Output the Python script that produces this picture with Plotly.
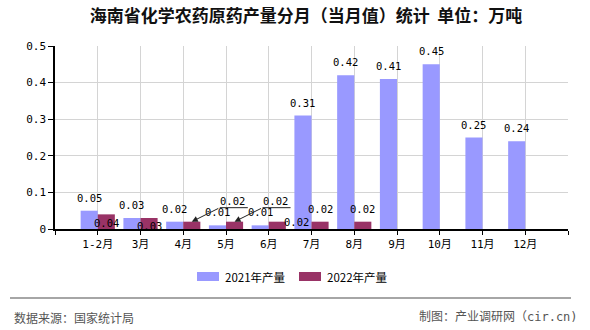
import plotly.graph_objects as go

# ---------------- data ----------------
categories = ["1-2月", "3月", "4月", "5月", "6月", "7月", "8月", "9月", "10月", "11月", "12月"]
series_names = ["2021年产量", "2022年产量"]
values_2021 = [0.05, 0.03, 0.02, 0.01, 0.01, 0.31, 0.42, 0.41, 0.45, 0.25, 0.24]
values_2022 = [0.04, 0.03, 0.02, 0.02, 0.02, 0.02, 0.02, None, None, None, None]
y_ticks = [0, 0.1, 0.2, 0.3, 0.4, 0.5]

title_text = "<b>海南省化学农药原药产量分月（当月值）统计  单位：万吨</b>"
source_text = "数据来源：国家统计局"
credit_text = "制图：产业调研网（cir.cn)"

# ---------------- style ----------------
COL_2021 = "#9999FF"
COL_2022 = "#993366"
GRID = "#D4D4D4"
CJK = "Noto Sans CJK SC"
MONO = "DejaVu Sans Mono, Noto Sans CJK SC"

W, H = 590, 330
L, R, T, B = 55, 568, 46, 229  # plot area in pixels


def px(xp):
    return (xp - L) / (R - L)


def py(yp):
    return (B - yp) / (B - T)


xpos = list(range(1, len(categories) + 1))
fig = go.Figure()
fig.add_trace(go.Bar(x=xpos, y=values_2021, name=series_names[0],
                     marker=dict(color=COL_2021, line=dict(width=0))))
fig.add_trace(go.Bar(x=xpos, y=values_2022, name=series_names[1],
                     marker=dict(color=COL_2022, line=dict(width=0))))

annotations = []
shapes = []
lab_font = dict(family=MONO, size=10.5, color="black")

# data labels (positions as in the reference's label layout)
for i, v in enumerate(values_2021):
    annotations.append(dict(x=xpos[i] - 0.2, y=v, xref="x", yref="y", text=f"{v:.2f}",
                            showarrow=False, yshift=13, font=lab_font))

special = {0: dict(xshift=0, yshift=-9), 1: dict(xshift=0, yshift=-8),
           4: dict(xshift=19, yshift=0)}
arrowed = {2, 3}
for i, v in enumerate(values_2022):
    if v is None:
        continue
    x = xpos[i] + 0.2
    if i in arrowed:
        # arrow from leader line to bar top
        annotations.append(dict(x=x, y=v, xref="x", yref="y", text="", showarrow=True,
                                ax=28, ay=-14, arrowhead=2, arrowsize=1.2, arrowwidth=1,
                                arrowcolor="#222", standoff=0))
        shapes.append(dict(type="line", xref="x", yref="y", xsizemode="pixel", ysizemode="pixel",
                           xanchor=x, yanchor=v, x0=28, x1=56, y0=14, y1=14,
                           line=dict(color="#222", width=1)))
        annotations.append(dict(x=x, y=v, xref="x", yref="y", text=f"{v:.2f}", showarrow=False,
                                xshift=41, yshift=21, font=lab_font))
    else:
        s = special.get(i, dict(xshift=0, yshift=13))
        annotations.append(dict(x=x, y=v, xref="x", yref="y", text=f"{v:.2f}", showarrow=False,
                                xshift=s["xshift"], yshift=s["yshift"], font=lab_font))

# manual legend
leg = [(197, 223, COL_2021, series_names[0]), (299, 325, COL_2022, series_names[1])]
for bx, tx, col, name in leg:
    shapes.append(dict(type="rect", xref="paper", yref="paper", x0=px(bx), x1=px(bx + 22),
                       y0=py(272), y1=py(281), fillcolor=col, line=dict(width=0)))
    annotations.append(dict(xref="paper", yref="paper", x=px(tx), y=py(276.5), text=name,
                            showarrow=False, xanchor="left", yanchor="middle",
                            font=dict(family=CJK, size=11.5, color="black")))

# separator line and footer
shapes.append(dict(type="line", xref="paper", yref="paper", x0=px(10), x1=px(571),
                   y0=py(298), y1=py(298), line=dict(color="#888888", width=1.5)))
annotations.append(dict(xref="paper", yref="paper", x=px(12), y=py(317), text=source_text,
                        showarrow=False, xanchor="left", yanchor="middle",
                        font=dict(family=CJK, size=12, color="#555555")))
annotations.append(dict(xref="paper", yref="paper", x=px(580), y=py(317), text=credit_text,
                        showarrow=False, xanchor="right", yanchor="middle",
                        font=dict(family=MONO, size=12, color="#555555")))

tickvals = [0] + xpos + [len(categories) + 1]
ticktext = [""] + categories + [""]

fig.update_layout(
    width=W, height=H,
    margin=dict(l=L, r=W - R, t=T, b=H - B, pad=0),
    paper_bgcolor="white", plot_bgcolor="white",
    barmode="group", bargap=0.2, bargroupgap=0,
    showlegend=False,
    title=dict(text=title_text, x=306 / W, y=1 - 16 / H, xanchor="center", yanchor="middle",
               font=dict(family=CJK, size=17, color="#111111")),
    xaxis=dict(range=[0, len(categories) + 1], tickmode="array", tickvals=tickvals, ticktext=ticktext,
               showgrid=True, gridcolor=GRID, gridwidth=1, showline=True, linecolor="black",
               linewidth=1.5, ticks="outside", ticklen=4, tickcolor="black",
               tickfont=dict(family=MONO, size=11, color="black"), zeroline=False),
    yaxis=dict(range=[0, 0.5], tickmode="array", tickvals=y_ticks,
               ticktext=[("%g" % t) for t in y_ticks],
               showgrid=True, gridcolor=GRID, gridwidth=1, showline=True, linecolor="black",
               linewidth=1.5, ticks="outside", ticklen=5, tickcolor="black",
               tickfont=dict(family=MONO, size=11, color="black"), zeroline=False),
    annotations=annotations, shapes=shapes,
)

fig.write_html("out.html")
